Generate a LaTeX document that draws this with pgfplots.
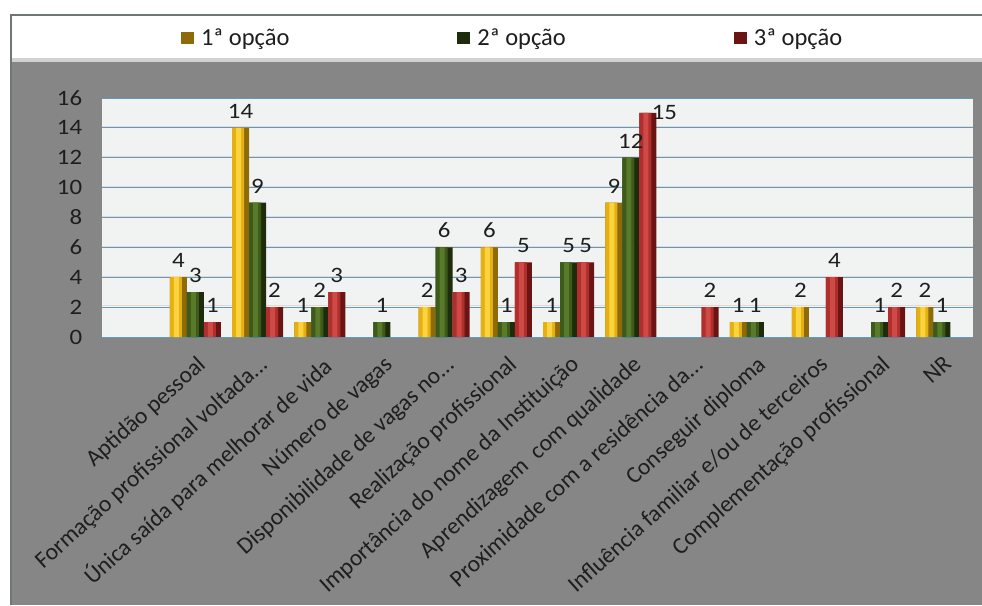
\documentclass[border=0pt]{standalone}
\usepackage{fontspec}
\setmainfont{Carlito}
\usepackage{pgfplots}
\usepackage{pgfplotstable}
\pgfplotsset{compat=1.18}
\definecolor{bggrey}{HTML}{868686}
\definecolor{framec}{HTML}{6E7676}
\definecolor{plotbg}{HTML}{F1F3F3}
\definecolor{gridc}{HTML}{5E9BC0}
\definecolor{gridp}{HTML}{EDD6D0}
\definecolor{txt}{HTML}{1E1E1E}
\definecolor{yb}{HTML}{E6B010}\definecolor{yl}{HTML}{FAD440}\definecolor{yd}{HTML}{8E6A08}
\definecolor{gb}{HTML}{3C5A1A}\definecolor{gl}{HTML}{587A2A}\definecolor{gd}{HTML}{1E2C0C}
\definecolor{rb}{HTML}{B02E2C}\definecolor{rl}{HTML}{CE4A46}\definecolor{rd}{HTML}{6A1414}
\newcommand{\bigf}{\fontsize{22}{26}\selectfont}
\newcommand{\labf}{\fontsize{23.5}{27}\selectfont}
\newcommand{\legf}{\fontsize{24.5}{28}\selectfont}
\newcommand{\dd}{.{}.{}.}
% 1ª opção
\pgfplotstableread{
x y lbl
1 4 4
2 14 14
3 1 1
5 2 2
6 6 6
7 1 1
8 9 9
10 1 1
11 2 2
13 2 2
}\tY
% 2ª opção
\pgfplotstableread{
x y lbl
1 3 3
2 9 9
3 2 2
4 1 1
5 6 6
6 1 1
7 5 5
8 12 12
10 1 1
12 1 1
13 1 1
}\tG
% 3ª opção
\pgfplotstableread{
x y lbl
1 1 1
2 2 2
3 3 3
5 3 3
6 5 5
7 5 5
8 15 {}
9 2 2
11 4 4
12 2 2
}\tR
\begin{document}
\begin{tikzpicture}[x=1pt,y=1pt]
\useasboundingbox (0,0) rectangle (982,605);
\fill[white] (0,0) rectangle (982,605);
\fill[bggrey] (11,0) rectangle (982,545);
\fill[white] (12,547) rectangle (982,589);
\fill[gray!35] (12,543) rectangle (982,547);
\draw[framec, line width=2pt] (11,0) -- (11,590) -- (982,590);
\begin{axis}[
  at={(102pt,268pt)}, anchor=south west,
  scale only axis, width=871pt, height=239pt,
  xmin=-0.5, xmax=13.5, ymin=0, ymax=16,
  ytick={0,2,...,16},
  extra y ticks={2.1,4.1,6.1,8.1,10.1,12.1,14.1},
  extra y tick labels={},
  extra y tick style={grid style={gridp, line width=0.5pt}},
  xtick={1,2,3,4,5,6,7,8,9,10,11,12,13},
  xticklabels={{Aptidão pessoal}, {Formação profissional voltada\dd}, {Única saída para melhorar de vida}, {Número de vagas}, {Disponibilidade de vagas no\dd}, {Realização profissional}, {Importância do nome da Instituição}, {Aprendizagem~ com qualidade}, {Proximidade com a residência da\dd}, {Conseguir diploma}, {Influência familiar e/ou de terceiros}, {Complementação profissional}, {NR}},
  xticklabel style={rotate=42, anchor=north east, font=\labf, text=txt, inner sep=2pt, yshift=-11pt, xshift=-9pt},
  yticklabel style={xscale=1.13, font=\bigf, text=txt, xshift=-14pt},
  /pgf/number format/assume math mode=true,
  major tick length=0pt,
  axis line style={draw=none},
  axis background/.style={fill=plotbg},
  ymajorgrids, grid style={gridc, line width=0.8pt},
  ybar, bar width=17pt,
  clip=false,
  legend columns=3,
  legend style={at={(0.4715,1.251)}, anchor=center, draw=none, fill=none, font=\legf, text=txt,
     /tikz/every odd column/.append style={column sep=5pt},
     /tikz/every even column/.append style={column sep=166pt}},
  legend image code/.code={\fill[#1] (0pt,-6pt) rectangle (13pt,6pt);},
  lab/.style={point meta=explicit symbolic, nodes near coords,
     every node near coord/.append style={xscale=1.13, font=\bigf, text=txt, yshift=6pt}},
]
% yellow
\addplot[bar shift=-17pt, fill=yd, draw=none, lab] table[x=x,y=y,meta=lbl] {\tY};
\addplot[forget plot, bar shift=-19.5pt, bar width=12pt, fill=yb, draw=none] table[x=x,y=y] {\tY};
\addplot[forget plot, bar shift=-19pt, bar width=5pt, fill=yl, draw=none] table[x=x,y=y] {\tY};
% green
\addplot[bar shift=0pt, fill=gd, draw=none, lab] table[x=x,y=y,meta=lbl] {\tG};
\addplot[forget plot, bar shift=-2.5pt, bar width=12pt, fill=gb, draw=none] table[x=x,y=y] {\tG};
\addplot[forget plot, bar shift=-2pt, bar width=5pt, fill=gl, draw=none] table[x=x,y=y] {\tG};
% red
\addplot[bar shift=17pt, fill=rd, draw=none, lab] table[x=x,y=y,meta=lbl] {\tR};
\addplot[forget plot, bar shift=14.5pt, bar width=12pt, fill=rb, draw=none] table[x=x,y=y] {\tR};
\addplot[forget plot, bar shift=15pt, bar width=5pt, fill=rl, draw=none] table[x=x,y=y] {\tR};
\addplot[forget plot, bar shift=17pt, draw=none, fill=none, point meta=explicit symbolic, nodes near coords,
  every node near coord/.append style={xscale=1.13, font=\bigf, text=txt, anchor=west}]
  coordinates {(8,15)[15]};
\legend{1ª opção, 2ª opção, 3ª opção}
\end{axis}
\end{tikzpicture}
\end{document}
